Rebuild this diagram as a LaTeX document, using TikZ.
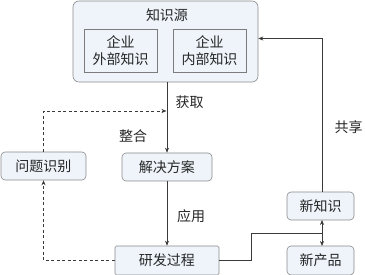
\documentclass[tikz,border=0pt]{standalone}
\usepackage{fontspec}
\setmainfont{Noto Sans CJK SC}
\usetikzlibrary{arrows.meta,calc}
\definecolor{boxfill}{HTML}{EEF4FA}
\definecolor{boxline}{HTML}{8A8A8A}
\definecolor{linec}{HTML}{3A3A3A}
\tikzset{
  rbox/.style={draw=boxline, fill=boxfill, rounded corners=4pt, line width=0.6pt,
    minimum width=#1, inner sep=0pt, minimum height=28pt, font=\fontsize{14}{17}\selectfont, text=black!85},
  rbox/.default=85pt,
  sbox/.style={draw=boxline!90!black, fill=boxfill, line width=0.6pt, minimum width=73pt,
    minimum height=43pt, inner sep=0pt, align=center, font=\fontsize{14}{17.5}\selectfont, text=black!85},
  lbl/.style={font=\fontsize{14}{17}\selectfont, text=black!85, inner sep=0pt},
  conn/.style={draw=linec, line width=0.6pt},
  arr/.style={conn, -{Stealth[length=5pt,width=4pt]}},
  darr/.style={conn, {Stealth[length=5pt,width=4pt]}-{Stealth[length=5pt,width=4pt]}},
  dasharr/.style={conn, dash pattern=on 3pt off 2.5pt, -{Stealth[length=5pt,width=4pt]}}
}
\begin{document}
\begin{tikzpicture}[x=1pt,y=-1pt]
\useasboundingbox (0,0) rectangle (365,275);
% knowledge source
\node[draw=boxline, fill=boxfill, rounded corners=6pt, line width=0.6pt, minimum width=185pt, minimum height=81pt, inner sep=0pt] (src) at (165.5,41.5) {};
\node[lbl] (srct) at (167,15) {知识源};
\node[sbox] (ext) at (120.5,50.5) {企业\\外部知识};
\node[sbox] (int) at (209.5,50.5) {企业\\内部知识};
% process boxes
\node[rbox=85pt] (wt) at (43.5,166) {问题识别};
\node[rbox=90pt] (jj) at (167,167) {解决方案};
\node[rbox=104pt, rounded corners=1.5pt, minimum height=29pt] (yf) at (167,260.5) {研发过程};
\node[rbox=67pt] (xzs) at (320.5,206) {新知识};
\node[rbox=67pt, minimum height=29pt] (xcp) at (320.5,260.5) {新产品};
% labels
\node[lbl] (l1) at (189.5,102.5) {获取};
\node[lbl] (l2) at (133,136) {整合};
\node[lbl] (l3) at (191,216.5) {应用};
\node[lbl] (l4) at (348.5,127) {共享};
% connectors
\coordinate (top) at ($(jj.north |- src.south)$);
\coordinate (dj) at (166.5,111);
\draw[arr] (top) -- (jj.north);
\draw[dasharr] (wt.north) |- (dj);
\draw[arr] (jj.south) -- (yf.north);
\draw[dasharr] (yf.west) -| (wt.south);
\coordinate (k1) at (251.5,233);
\coordinate (k2) at (322,233);
\coordinate (xs) at (322,220);
\coordinate (xn) at (322,246);
\coordinate (xt) at (322,192);
\coordinate (xr) at (322,38.5);
\draw[conn] (yf.east) -| (k1) -- (k2);
\draw[darr] (xs) -- (xn);
\draw[arr] (xt) -- (xr) -- (xr -| src.east);
\end{tikzpicture}
\end{document}
